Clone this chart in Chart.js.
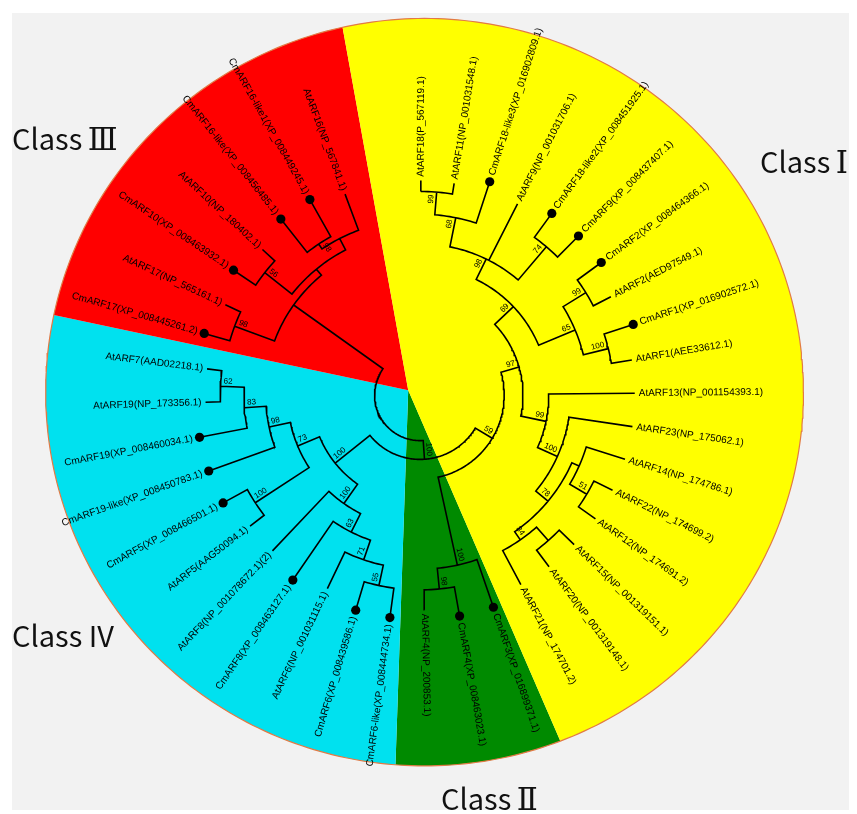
<!DOCTYPE html>
<html>
<head>
<meta charset="utf-8">
<title>ARF phylogeny</title>
<style>
  html, body { margin: 0; padding: 0; background: #ffffff; }
  #wrap { position: relative; width: 857px; height: 814px; }
  canvas { display: block; }
</style>
<script src="https://cdn.jsdelivr.net/npm/chart.js@4.4.1/dist/chart.umd.min.js"></script>
</head>
<body>
<div id="wrap"><canvas id="tree" width="857" height="814"></canvas></div>
<script>
// ---- tree data -------------------------------------------------------------
// Leaves in clockwise drawing order, starting at the top of the circle.
const leafLabels = [
  'AtARF18(P_567119.1)',
  'AtARF11(NP_001031548.1)',
  'CmARF18-like3(XP_016902809.1)',
  'AtARF9(NP_001031706.1)',
  'CmARF18-like2(XP_008451925.1)',
  'CmARF9(XP_008437407.1)',
  'CmARF2(XP_008464366.1)',
  'AtARF2(AED97549.1)',
  'CmARF1(XP_016902572.1)',
  'AtARF1(AEE33612.1)',
  'AtARF13(NP_001154393.1)',
  'AtARF23(NP_175062.1)',
  'AtARF14(NP_174786.1)',
  'AtARF22(NP_174699.2)',
  'AtARF12(NP_174691.2)',
  'AtARF15(NP_001319151.1)',
  'AtARF20(NP_001319148.1)',
  'AtARF21(NP_174701.2)',
  'CmARF3(XP_016899371.1)',
  'CmARF4(XP_008463023.1)',
  'AtARF4(NP_200853.1)',
  'CmARF6-like(XP_008444734.1)',
  'CmARF6(XP_008439586.1)',
  'AtARF6(NP_001031115.1)',
  'CmARF8(XP_008463127.1)',
  'AtARF8(NP_001078672.1)(2)',
  'AtARF5(AAG50094.1)',
  'CmARF5(XP_008466501.1)',
  'CmARF19-like(XP_008450783.1)',
  'CmARF19(XP_008460034.1)',
  'AtARF19(NP_173356.1)',
  'AtARF7(AAD02218.1)',
  'CmARF17(XP_008445261.2)',
  'AtARF17(NP_565161.1)',
  'CmARF10(XP_008463932.1)',
  'AtARF10(NP_180402.1)',
  'CmARF16-like(XP_008456485.1)',
  'CmARF16-like1(XP_008449245.1)',
  'AtARF16(NP_567841.1)'
];

// Internal clades: members are leaf indices or earlier clades ('c<k>').
const cladeMembers = [
  [0, 1],            // c0
  ['c0', 2],         // c1
  [4, 5],            // c2
  ['c1', 3, 'c2'],   // c3
  [6, 7],            // c4
  [8, 9],            // c5
  ['c4', 'c5'],      // c6
  ['c3', 'c6'],      // c7
  [13, 14],          // c8
  [12, 'c8'],        // c9
  [15, 16],          // c10
  ['c10', 17],       // c11
  ['c9', 'c11'],     // c12
  [11, 'c12'],       // c13
  [10, 'c13'],       // c14
  ['c7', 'c14'],     // c15
  [19, 20],          // c16
  [18, 'c16'],       // c17
  ['c15', 'c17'],    // c18
  [21, 22],          // c19
  [23, 'c19'],       // c20
  [24, 'c20'],       // c21
  [25, 'c21'],       // c22
  [30, 31],          // c23
  [29, 'c23'],       // c24
  [28, 'c24'],       // c25
  [26, 27],          // c26
  ['c26', 'c25'],    // c27
  ['c27', 'c22'],    // c28
  ['c18', 'c28'],    // c29
  [32, 33],          // c30
  [34, 35],          // c31
  [36, 37],          // c32
  ['c32', 38],       // c33
  ['c31', 'c33'],    // c34
  ['c30', 'c34'],    // c35
  ['c29', 'c35']     // c36 (root)
];
// Node heights measured from the root, in the same units as the tip height below.
const cladeDepth = [206, 183, 197, 153, 197, 196, 170, 130, 196, 176, 196, 178, 168, 152, 130, 104,
                    197, 176, 85, 197, 176, 155, 134, 202, 178, 156, 199, 134, 110, 65,
                    200, 200, 184, 178, 165, 157, 46];
// Bootstrap support (%) of each clade.
const cladeSupport = [99, 68, 74, 98, 99, 100, 65, 69, 51, null, null, 84, 78, 100, 99, 97,
                      98, 100, 59, 55, 71, 63, 100, 62, 83, 98, 100, 73, 100, 100,
                      98, 56, 98, null, null, null, null];

// Class sectors behind the tree (rim angles in degrees, counter-clockwise).
const classNames  = ['Class \u2160', 'Class \u2162', 'Class IV', 'Class \u2161'];
const classColors = ['#ffff00', '#ff0000', '#00e1ef', '#008a00'];
const classEdges  = [-69, 102.5, 168.1, 265.6, 291];

// ---- layout ----------------------------------------------------------------
const TIP_R = 217, DOT_R = 227, AT_LABEL_R = 221, CM_LABEL_R = 234;
const START_ANGLE = 89.8, LEAF_STEP = 8.93;
const RIM = { cx: 4.5, cy: 3, rx: 383, ry: 378 };
const APEX = { x: -12, y: 5 };
const deg = Math.PI / 180;

const isMelon = leafLabels.map(s => s.startsWith('Cm'));
const leafAngle = leafLabels.map((_, i) => START_ANGLE - i * LEAF_STEP);
const polar = (r, a) => ({ x: r * Math.cos(a * deg), y: r * Math.sin(a * deg) });

const cladeAngle = [], cladeSpan = [];
const memberAngle = m => typeof m === 'number' ? leafAngle[m] : cladeAngle[+m.slice(1)];
const memberDepth = m => typeof m === 'number' ? (isMelon[m] ? DOT_R : TIP_R) : cladeDepth[+m.slice(1)];
cladeMembers.forEach((mem, k) => {
  const a = mem.map(memberAngle);
  const lo = Math.min(...a), hi = Math.max(...a);
  cladeSpan[k] = [lo, hi];
  cladeAngle[k] = (lo + hi) / 2;
});

// Branches: each clade gives one polyline (outer child -> arc -> outer child)
const GAP = { x: NaN, y: NaN };
const treePts = [];
cladeMembers.forEach((mem, k) => {
  const r = cladeDepth[k];
  const sorted = mem.slice().sort((p, q) => memberAngle(p) - memberAngle(q));
  const first = sorted[0], last = sorted[sorted.length - 1];
  const [lo, hi] = cladeSpan[k];
  const path = [polar(memberDepth(first), lo)];
  const n = Math.max(2, Math.ceil(hi - lo));
  for (let j = 0; j <= n; j++) path.push(polar(r, lo + (hi - lo) * j / n));
  path.push(polar(memberDepth(last), hi));
  treePts.push(...path, GAP);
  sorted.slice(1, -1).forEach(m => {
    treePts.push(polar(r, memberAngle(m)), polar(memberDepth(m), memberAngle(m)), GAP);
  });
});

const dotPts = leafAngle.filter((_, i) => isMelon[i]).map(a => polar(DOT_R, a));

const rimPoint = a => ({ x: RIM.cx + RIM.rx * Math.cos(a * deg), y: RIM.cy + RIM.ry * Math.sin(a * deg) });
const sectorSets = classNames.map((name, k) => {
  const a0 = classEdges[k], a1 = classEdges[k + 1];
  const pts = [APEX];
  for (let a = a0; a < a1; a += 1) pts.push(rimPoint(a));
  pts.push(rimPoint(a1), APEX);
  return {
    label: name, data: pts, showLine: true, fill: 'shape',
    backgroundColor: classColors[k], borderWidth: 0, borderColor: classColors[k],
    pointRadius: 0, order: 10
  };
});
const rimPts = [];
for (let a = 0; a <= 360; a += 1) rimPts.push(rimPoint(a));

// ---- text plugin -------------------------------------------------------------
const treeText = {
  id: 'treeText',
  beforeDraw(chart) {
    const { ctx, width, height } = chart;
    ctx.save();
    ctx.fillStyle = '#ffffff';
    ctx.fillRect(0, 0, width, height);
    ctx.fillStyle = '#f2f2f2';
    ctx.fillRect(12, 13, width - 20, height - 17);
    ctx.restore();
  },
  afterDatasetsDraw(chart) {
    const { ctx, scales: { x, y } } = chart;
    const toPx = p => [x.getPixelForValue(p.x), y.getPixelForValue(p.y)];
    const radial = (text, angle, r, font, inner) => {
      const right = Math.cos(angle * deg) >= 0;
      const [px, py] = toPx(polar(r, angle));
      ctx.save();
      ctx.translate(px, py);
      ctx.rotate(right ? -angle * deg : -angle * deg + Math.PI);
      ctx.font = font;
      ctx.fillStyle = '#000';
      if (inner) {
        // support value sits just inside its node, beside the branch
        ctx.textBaseline = 'bottom';
        ctx.textAlign = right ? 'right' : 'left';
        ctx.fillText(text, 0, -1);
      } else {
        ctx.textBaseline = 'middle';
        ctx.textAlign = right ? 'left' : 'right';
        ctx.fillText(text, 0, 0);
      }
      ctx.restore();
    };
    leafLabels.forEach((t, i) => {
      radial(t, leafAngle[i], isMelon[i] ? CM_LABEL_R : AT_LABEL_R, "10px 'Liberation Sans', Arial, sans-serif", false);
    });
    cladeSupport.forEach((s, k) => {
      if (s == null) return;
      radial(String(s), cladeAngle[k], cladeDepth[k] - 3, "8px 'Liberation Sans', Arial, sans-serif", true);
    });
    // class captions around the circle; Roman-numeral glyphs use a serif face
    const captions = [[760, 173], [12, 150], [12, 647], [441, 810]];
    ctx.save();
    ctx.fillStyle = '#111';
    ctx.textAlign = 'left';
    ctx.textBaseline = 'alphabetic';
    classNames.forEach((n, k) => {
      const [cx, cy] = captions[k];
      const sp = n.indexOf(' ');
      const word = n.slice(0, sp + 1), num = n.slice(sp + 1);
      ctx.font = "29px 'Noto Sans CJK SC', 'Noto Sans', sans-serif";
      ctx.fillText(word, cx, cy);
      const w = ctx.measureText(word).width;
      if (/^[IVX]+$/.test(num)) {
        ctx.fillText(num, cx + w, cy);
      } else {
        ctx.font = "31px 'DejaVu Serif', 'Liberation Serif', serif";
        ctx.fillText(num, cx + w - 1, cy);
      }
    });
    ctx.restore();
  }
};

new Chart(document.getElementById('tree'), {
  type: 'scatter',
  data: {
    datasets: [
      ...sectorSets,
      { label: 'rim', data: rimPts, showLine: true, fill: false, borderColor: '#e27a45',
        borderWidth: 1.2, pointRadius: 0, order: 9 },
      { label: 'branches', data: treePts, showLine: true, spanGaps: false, fill: false,
        borderColor: '#000', borderWidth: 1.6, borderJoinStyle: 'miter', borderCapStyle: 'butt',
        pointRadius: 0, order: 5 },
      { label: 'melon genes', data: dotPts, showLine: false, pointRadius: 4.6,
        backgroundColor: '#000', borderWidth: 0, order: 1 }
    ]
  },
  options: {
    responsive: false,
    animation: false,
    events: [],
    layout: { padding: 0 },
    plugins: { legend: { display: false }, tooltip: { enabled: false } },
    scales: {
      x: { type: 'linear', min: -420, max: 437, display: false },
      y: { type: 'linear', min: -419, max: 395, display: false }
    }
  },
  plugins: [treeText]
});
</script>
</body>
</html>
